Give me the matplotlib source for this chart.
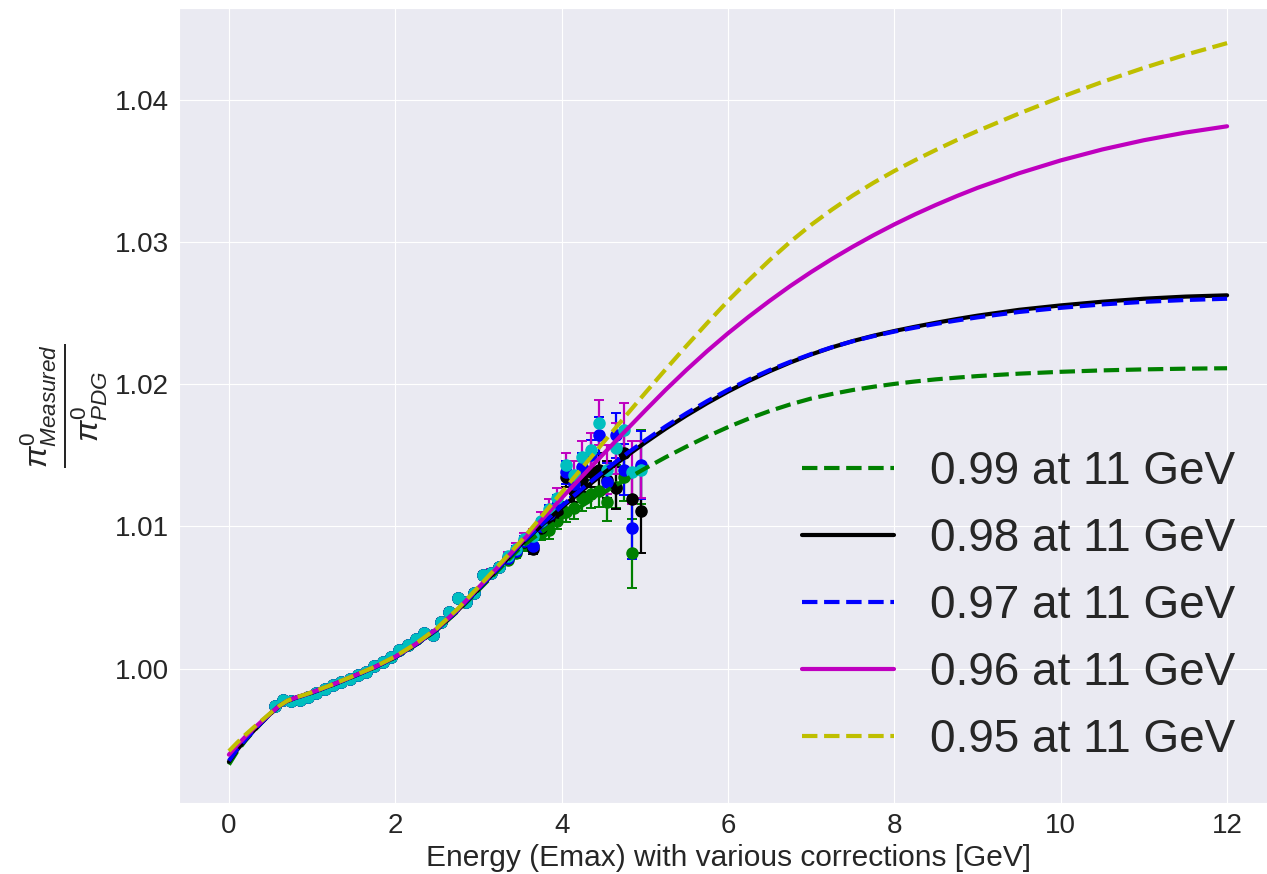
import matplotlib
matplotlib.use("Agg")
import matplotlib.pyplot as plt
import seaborn as sns

# ---------------------------------------------------------------- data
# measured pi0 mass ratio vs. energy (four correction sets)
energy_pts = [0.55, 0.65, 0.75, 0.85, 0.95, 1.05, 1.15, 1.25, 1.35, 1.45,
              1.55, 1.65, 1.75, 1.85, 1.95, 2.05, 2.15, 2.25, 2.35, 2.45,
              2.55, 2.65, 2.75, 2.85, 2.95, 3.05, 3.15, 3.25, 3.35, 3.45,
              3.55, 3.65, 3.75, 3.85, 3.95, 4.05, 4.15, 4.25, 4.35, 4.45,
              4.55, 4.65, 4.75, 4.85, 4.95]

# below ~3.3 GeV all correction sets agree
ratio_low = [0.99740, 0.99780, 0.99772, 0.99780, 0.99803, 0.99827, 0.99855,
             0.99882, 0.99906, 0.99930, 0.99956, 0.99979, 1.00020, 1.00049,
             1.00084, 1.00128, 1.00165, 1.00212, 1.00248, 1.00237, 1.00330,
             1.00401, 1.00495, 1.00470, 1.00530, 1.00660, 1.00675, 1.00712]
err_low = [0.00008, 0.00008, 0.00008, 0.00008, 0.00008, 0.00008, 0.00009,
           0.00009, 0.00009, 0.00010, 0.00010, 0.00010, 0.00011, 0.00011,
           0.00012, 0.00012, 0.00013, 0.00013, 0.00014, 0.00015, 0.00016,
           0.00017, 0.00018, 0.00019, 0.00020, 0.00022, 0.00024, 0.00026]

ratio_green_hi = [1.00765, 1.00815, 1.00870, 1.00860, 1.00955, 1.00975, 1.01040,
                  1.01100, 1.01130, 1.01200, 1.01230, 1.01250, 1.01170, 1.01280,
                  1.01350, 1.00810, 1.01420]
ratio_black_hi = [1.00775, 1.00825, 1.00890, 1.00845, 1.00990, 1.01060, 1.01100,
                  1.01350, 1.01250, 1.01330, 1.01380, 1.01400, 1.01330, 1.01270,
                  1.01520, 1.01190, 1.01110]
ratio_blue_hi = [1.00780, 1.00830, 1.00895, 1.00860, 1.01000, 1.01090, 1.01150,
                 1.01380, 1.01300, 1.01420, 1.01500, 1.01640, 1.01310, 1.01640,
                 1.01400, 1.00990, 1.01430]
ratio_mag_hi = [1.00790, 1.00845, 1.00915, 1.00935, 1.01040, 1.01120, 1.01200,
                1.01430, 1.01360, 1.01490, 1.01540, 1.01730, 1.01400, 1.01550,
                1.01680, 1.01380, 1.01400]

err_green_hi = [0.0003, 0.00035, 0.0004, 0.00045, 0.0005, 0.0006, 0.0006, 0.0007,
                0.0008, 0.0009, 0.0010, 0.0011, 0.0013, 0.0015, 0.0017, 0.0024, 0.0026]
err_black_hi = [0.0003, 0.00035, 0.0004, 0.0004, 0.0005, 0.0006, 0.0006, 0.0007,
                0.0008, 0.0009, 0.0010, 0.0012, 0.0013, 0.0015, 0.0017, 0.0020, 0.0030]
err_blue_hi = [0.0003, 0.00035, 0.0004, 0.0005, 0.0005, 0.0006, 0.0007, 0.0008,
               0.0009, 0.0010, 0.0011, 0.0013, 0.0014, 0.0016, 0.0018, 0.0022, 0.0024]
err_mag_hi = [0.0003, 0.0004, 0.0004, 0.0005, 0.0006, 0.0007, 0.0007, 0.0009,
              0.0010, 0.0011, 0.0012, 0.0016, 0.0017, 0.0018, 0.0019, 0.0022, 0.0020]

# fitted correction curves
energy_fit = [0.0, 0.1, 0.2, 0.3, 0.4, 0.5, 0.6, 0.7, 0.8, 0.9, 1.0,
              1.25, 1.5, 1.75, 2.0, 2.25, 2.5, 2.75, 3.0, 3.25, 3.5, 3.75,
              4.0, 4.25, 4.5, 4.75, 5.0, 5.25, 5.5, 5.75, 6.0, 6.25, 6.5,
              6.75, 7.0, 7.25, 7.5, 7.75, 8.0, 8.25, 8.5, 8.75, 9.0,
              9.5, 10.0, 10.5, 11.0, 11.5, 12.0]
fit_099 = [0.99325, 0.99418, 0.99494, 0.99562, 0.99623, 0.99682, 0.99735,
           0.99771, 0.99794, 0.99812, 0.99831,
           0.99886, 0.99946, 1.00008, 1.00079, 1.00168, 1.00272, 1.00403,
           1.00552, 1.00700, 1.00850, 1.00958,
           1.01058, 1.01148, 1.01237, 1.01323, 1.01407, 1.01487, 1.01562,
           1.01633, 1.01699, 1.01759, 1.01812, 1.01859, 1.01900, 1.01932,
           1.01960, 1.01983, 1.02003, 1.02020, 1.02035, 1.02047, 1.02058,
           1.02075, 1.02088, 1.02098, 1.02105, 1.02110, 1.02113]
fit_098 = [0.99345, 0.99430, 0.99500, 0.99565, 0.99625, 0.99683, 0.99735,
           0.99772, 0.99795, 0.99813, 0.99832,
           0.99887, 0.99947, 1.00009, 1.00081, 1.00171, 1.00276, 1.00409,
           1.00560, 1.00712, 1.00868, 1.01003,
           1.01133, 1.01255, 1.01372, 1.01483, 1.01588, 1.01688, 1.01781,
           1.01868, 1.01949, 1.02024, 1.02092, 1.02154, 1.02210, 1.02260,
           1.02304, 1.02342, 1.02375, 1.02405, 1.02433, 1.02459, 1.02483,
           1.02524, 1.02555, 1.02581, 1.02602, 1.02617, 1.02626]
fit_097 = [0.99352, 0.99434, 0.99502, 0.99566, 0.99626, 0.99683, 0.99735,
           0.99772, 0.99795, 0.99813, 0.99832,
           0.99887, 0.99947, 1.00009, 1.00081, 1.00171, 1.00276, 1.00410,
           1.00562, 1.00714, 1.00872, 1.01010,
           1.01143, 1.01268, 1.01387, 1.01499, 1.01604, 1.01704, 1.01796,
           1.01882, 1.01961, 1.02034, 1.02100, 1.02159, 1.02213, 1.02261,
           1.02303, 1.02339, 1.02371, 1.02399, 1.02425, 1.02449, 1.02471,
           1.02509, 1.02538, 1.02562, 1.02580, 1.02593, 1.02602]
fit_096 = [0.99395, 0.99462, 0.99523, 0.99580, 0.99633, 0.99686, 0.99736,
           0.99773, 0.99796, 0.99814, 0.99834,
           0.99889, 0.99949, 1.00011, 1.00084, 1.00175, 1.00281, 1.00416,
           1.00570, 1.00725, 1.00880, 1.01040,
           1.01200, 1.01355, 1.01509, 1.01662, 1.01813, 1.01961, 1.02101,
           1.02234, 1.02359, 1.02476, 1.02587, 1.02692, 1.02790, 1.02882,
           1.02968, 1.03049, 1.03125, 1.03196, 1.03262, 1.03324, 1.03382,
           1.03485, 1.03575, 1.03652, 1.03717, 1.03771, 1.03815]
fit_095 = [0.99420, 0.99480, 0.99536, 0.99588, 0.99638, 0.99688, 0.99736,
           0.99774, 0.99797, 0.99815, 0.99835,
           0.99890, 0.99950, 1.00012, 1.00086, 1.00177, 1.00284, 1.00420,
           1.00575, 1.00732, 1.00890, 1.01065,
           1.01240, 1.01415, 1.01590, 1.01764, 1.01936, 1.02105, 1.02270,
           1.02431, 1.02587, 1.02733, 1.02873, 1.03003, 1.03122, 1.03229,
           1.03328, 1.03418, 1.03501, 1.03577, 1.03649, 1.03718, 1.03782,
           1.03905, 1.04020, 1.04127, 1.04226, 1.04318, 1.04400]

fit_labels = ["0.99 at 11 GeV", "0.98 at 11 GeV", "0.97 at 11 GeV",
              "0.96 at 11 GeV", "0.95 at 11 GeV"]

# ---------------------------------------------------------------- style
sns.set_style("darkgrid")
plt.rcParams["font.family"] = ["Liberation Sans", "DejaVu Sans"]
plt.rcParams["mathtext.fontset"] = "custom"
plt.rcParams["mathtext.rm"] = "Liberation Sans"
plt.rcParams["mathtext.it"] = "Liberation Sans:italic"
plt.rcParams["mathtext.bf"] = "Liberation Sans:bold"

fig = plt.figure(figsize=(12.67, 8.74), dpi=100)
ax = fig.add_axes([179 / 1267, 71 / 874, 1098 / 1267, 795 / 874])

point_sets = [
    (ratio_low + ratio_green_hi, err_low + err_green_hi, "g", "g"),
    (ratio_low + ratio_black_hi, err_low + err_black_hi, "k", "k"),
    (ratio_low + ratio_blue_hi, err_low + err_blue_hi, "b", "b"),
    (ratio_low + ratio_mag_hi, err_low + err_mag_hi, "c", "m"),
]
for yvals, yerr, mcol, ecol in point_sets:
    ax.errorbar(energy_pts, yvals, yerr=yerr, fmt="o", color=mcol, ecolor=ecol,
                markersize=8, elinewidth=1.6, capsize=3.5, capthick=1.4, zorder=2)

curve_styles = [(fit_099, "g", "--"), (fit_098, "k", "-"), (fit_097, "b", "--"),
                (fit_096, "m", "-"), (fit_095, "y", "--")]
for (vals, col, ls), lab in zip(curve_styles, fit_labels):
    ax.plot(energy_fit, vals, color=col, linestyle=ls, linewidth=3, label=lab,
            zorder=3, solid_joinstyle="round", dash_joinstyle="round")

ax.set_xlim(-0.6, 12.6)
ax.set_ylim(0.99055, 1.04647)
ax.set_xticks([0, 2, 4, 6, 8, 10, 12])
ax.set_yticks([1.00, 1.01, 1.02, 1.03, 1.04])
ax.set_yticklabels(["1.00", "1.01", "1.02", "1.03", "1.04"])
ax.tick_params(labelsize=20)
ax.set_xlabel("Energy (Emax) with various corrections [GeV]", fontsize=21.5)
ax.set_ylabel(r"$\frac{\pi^0_{Measured}}{\pi^0_{PDG}}$", fontsize=33)

ax.legend(loc="lower right", fontsize=33, labelspacing=0.5, frameon=False)

fig.savefig("out.png", dpi=100)
